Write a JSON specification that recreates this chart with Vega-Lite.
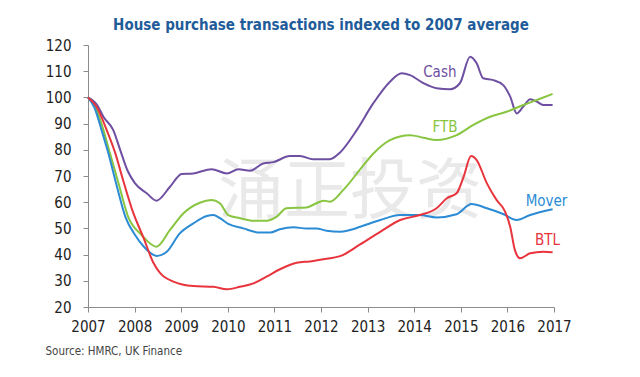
{
  "$schema": "https://vega.github.io/schema/vega-lite/v6.json",
  "autosize": "none",
  "width": 466,
  "height": 262,
  "padding": {"left": 88, "top": 45, "right": 86, "bottom": 70},
  "background": "white",
  "title": {
    "text": "House purchase transactions indexed to 2007 average",
    "frame": "group",
    "anchor": "middle",
    "offset": 5,
    "font": "DejaVu Sans Condensed, Liberation Sans, sans-serif",
    "fontSize": 15,
    "fontWeight": "bold",
    "color": "#1f5c99"
  },
  "config": {
    "view": {"stroke": null},
    "font": "DejaVu Sans Condensed, Liberation Sans, sans-serif"
  },
  "datasets": {
    "series": [
      {"series": "Cash", "year": 2007.0, "value": 100},
      {"series": "Cash", "year": 2007.2, "value": 97},
      {"series": "Cash", "year": 2007.33, "value": 92.6},
      {"series": "Cash", "year": 2007.54, "value": 87.6},
      {"series": "Cash", "year": 2007.69, "value": 80},
      {"series": "Cash", "year": 2007.85, "value": 72},
      {"series": "Cash", "year": 2008.01, "value": 67.2},
      {"series": "Cash", "year": 2008.26, "value": 63.4},
      {"series": "Cash", "year": 2008.47, "value": 60.6},
      {"series": "Cash", "year": 2008.76, "value": 65.9},
      {"series": "Cash", "year": 2009.01, "value": 70.8},
      {"series": "Cash", "year": 2009.26, "value": 71},
      {"series": "Cash", "year": 2009.65, "value": 72.6},
      {"series": "Cash", "year": 2009.98, "value": 71},
      {"series": "Cash", "year": 2010.23, "value": 72.6},
      {"series": "Cash", "year": 2010.48, "value": 72},
      {"series": "Cash", "year": 2010.76, "value": 74.8},
      {"series": "Cash", "year": 2010.98, "value": 75.3},
      {"series": "Cash", "year": 2011.33, "value": 77.6},
      {"series": "Cash", "year": 2011.55, "value": 77.6},
      {"series": "Cash", "year": 2011.83, "value": 76.4},
      {"series": "Cash", "year": 2012.19, "value": 76.4},
      {"series": "Cash", "year": 2012.41, "value": 79},
      {"series": "Cash", "year": 2012.77, "value": 87.6},
      {"series": "Cash", "year": 2013.12, "value": 97.7},
      {"series": "Cash", "year": 2013.48, "value": 106},
      {"series": "Cash", "year": 2013.73, "value": 109.2},
      {"series": "Cash", "year": 2013.91, "value": 108.5},
      {"series": "Cash", "year": 2014.2, "value": 105.4},
      {"series": "Cash", "year": 2014.48, "value": 103.5},
      {"series": "Cash", "year": 2014.77, "value": 103.1},
      {"series": "Cash", "year": 2014.98, "value": 105.4},
      {"series": "Cash", "year": 2015.2, "value": 115.5},
      {"series": "Cash", "year": 2015.34, "value": 113},
      {"series": "Cash", "year": 2015.48, "value": 107.3},
      {"series": "Cash", "year": 2015.7, "value": 106.6},
      {"series": "Cash", "year": 2015.91, "value": 104.7},
      {"series": "Cash", "year": 2016.06, "value": 100.3},
      {"series": "Cash", "year": 2016.2, "value": 93.9},
      {"series": "Cash", "year": 2016.34, "value": 96.5},
      {"series": "Cash", "year": 2016.49, "value": 99.3},
      {"series": "Cash", "year": 2016.63, "value": 98.4},
      {"series": "Cash", "year": 2016.77, "value": 97.1},
      {"series": "Cash", "year": 2016.97, "value": 97.1},

      {"series": "FTB", "year": 2007.0, "value": 100},
      {"series": "FTB", "year": 2007.15, "value": 96.5},
      {"series": "FTB", "year": 2007.33, "value": 87.6},
      {"series": "FTB", "year": 2007.45, "value": 80},
      {"series": "FTB", "year": 2007.65, "value": 67.5},
      {"series": "FTB", "year": 2007.86, "value": 54.5},
      {"series": "FTB", "year": 2008.15, "value": 47.5},
      {"series": "FTB", "year": 2008.47, "value": 43},
      {"series": "FTB", "year": 2008.76, "value": 49.4},
      {"series": "FTB", "year": 2009.05, "value": 55.8},
      {"series": "FTB", "year": 2009.4, "value": 59.8},
      {"series": "FTB", "year": 2009.65, "value": 60.8},
      {"series": "FTB", "year": 2009.83, "value": 59.6},
      {"series": "FTB", "year": 2010.01, "value": 55.1},
      {"series": "FTB", "year": 2010.26, "value": 53.9},
      {"series": "FTB", "year": 2010.55, "value": 52.9},
      {"series": "FTB", "year": 2010.83, "value": 52.9},
      {"series": "FTB", "year": 2011.05, "value": 54.5},
      {"series": "FTB", "year": 2011.26, "value": 57.7},
      {"series": "FTB", "year": 2011.69, "value": 58},
      {"series": "FTB", "year": 2011.9, "value": 59.6},
      {"series": "FTB", "year": 2012.05, "value": 60.6},
      {"series": "FTB", "year": 2012.19, "value": 60.2},
      {"series": "FTB", "year": 2012.48, "value": 64.7},
      {"series": "FTB", "year": 2012.84, "value": 72.5},
      {"series": "FTB", "year": 2013.12, "value": 78.5},
      {"series": "FTB", "year": 2013.48, "value": 83.7},
      {"series": "FTB", "year": 2013.91, "value": 85.6},
      {"series": "FTB", "year": 2014.2, "value": 84.6},
      {"series": "FTB", "year": 2014.48, "value": 83.7},
      {"series": "FTB", "year": 2014.91, "value": 85.6},
      {"series": "FTB", "year": 2015.27, "value": 89.5},
      {"series": "FTB", "year": 2015.63, "value": 92.6},
      {"series": "FTB", "year": 2015.98, "value": 94.5},
      {"series": "FTB", "year": 2016.34, "value": 97.1},
      {"series": "FTB", "year": 2016.63, "value": 99},
      {"series": "FTB", "year": 2016.97, "value": 101.3},

      {"series": "Mover", "year": 2007.0, "value": 100},
      {"series": "Mover", "year": 2007.14, "value": 96},
      {"series": "Mover", "year": 2007.29, "value": 87.6},
      {"series": "Mover", "year": 2007.44, "value": 78.5},
      {"series": "Mover", "year": 2007.62, "value": 66},
      {"series": "Mover", "year": 2007.8, "value": 54.5},
      {"series": "Mover", "year": 2008.01, "value": 47.5},
      {"series": "Mover", "year": 2008.2, "value": 43},
      {"series": "Mover", "year": 2008.47, "value": 39.5},
      {"series": "Mover", "year": 2008.69, "value": 41.1},
      {"series": "Mover", "year": 2008.97, "value": 48.1},
      {"series": "Mover", "year": 2009.26, "value": 51.9},
      {"series": "Mover", "year": 2009.55, "value": 54.7},
      {"series": "Mover", "year": 2009.69, "value": 55.1},
      {"series": "Mover", "year": 2009.83, "value": 53.9},
      {"series": "Mover", "year": 2010.01, "value": 51.7},
      {"series": "Mover", "year": 2010.33, "value": 50},
      {"series": "Mover", "year": 2010.69, "value": 48.4},
      {"series": "Mover", "year": 2010.91, "value": 48.4},
      {"series": "Mover", "year": 2011.12, "value": 49.7},
      {"series": "Mover", "year": 2011.41, "value": 50.4},
      {"series": "Mover", "year": 2011.69, "value": 50},
      {"series": "Mover", "year": 2011.9, "value": 50},
      {"series": "Mover", "year": 2012.12, "value": 49.1},
      {"series": "Mover", "year": 2012.41, "value": 48.7},
      {"series": "Mover", "year": 2012.62, "value": 49.4},
      {"series": "Mover", "year": 2012.84, "value": 50.6},
      {"series": "Mover", "year": 2013.27, "value": 53.2},
      {"series": "Mover", "year": 2013.7, "value": 55.1},
      {"series": "Mover", "year": 2014.12, "value": 55.1},
      {"series": "Mover", "year": 2014.48, "value": 54.2},
      {"series": "Mover", "year": 2014.91, "value": 55.4},
      {"series": "Mover", "year": 2015.23, "value": 59.3},
      {"series": "Mover", "year": 2015.56, "value": 57.7},
      {"series": "Mover", "year": 2015.91, "value": 55.5},
      {"series": "Mover", "year": 2016.2, "value": 53.2},
      {"series": "Mover", "year": 2016.49, "value": 55.1},
      {"series": "Mover", "year": 2016.97, "value": 57.3},

      {"series": "BTL", "year": 2007.0, "value": 100},
      {"series": "BTL", "year": 2007.18, "value": 96.5},
      {"series": "BTL", "year": 2007.4, "value": 87.6},
      {"series": "BTL", "year": 2007.58, "value": 79},
      {"series": "BTL", "year": 2007.76, "value": 68},
      {"series": "BTL", "year": 2007.97, "value": 56},
      {"series": "BTL", "year": 2008.19, "value": 46.5},
      {"series": "BTL", "year": 2008.4, "value": 37},
      {"series": "BTL", "year": 2008.55, "value": 32.9},
      {"series": "BTL", "year": 2008.83, "value": 29.7},
      {"series": "BTL", "year": 2009.26, "value": 28},
      {"series": "BTL", "year": 2009.69, "value": 27.7},
      {"series": "BTL", "year": 2009.98, "value": 26.8},
      {"series": "BTL", "year": 2010.26, "value": 27.7},
      {"series": "BTL", "year": 2010.55, "value": 29},
      {"series": "BTL", "year": 2010.83, "value": 31.6},
      {"series": "BTL", "year": 2011.12, "value": 34.4},
      {"series": "BTL", "year": 2011.48, "value": 36.9},
      {"series": "BTL", "year": 2011.76, "value": 37.4},
      {"series": "BTL", "year": 2012.12, "value": 38.4},
      {"series": "BTL", "year": 2012.41, "value": 39.4},
      {"series": "BTL", "year": 2012.84, "value": 43.9},
      {"series": "BTL", "year": 2013.27, "value": 48.7},
      {"series": "BTL", "year": 2013.7, "value": 53.2},
      {"series": "BTL", "year": 2014.12, "value": 55.1},
      {"series": "BTL", "year": 2014.48, "value": 57.7},
      {"series": "BTL", "year": 2014.7, "value": 61.5},
      {"series": "BTL", "year": 2014.91, "value": 63.4},
      {"series": "BTL", "year": 2015.06, "value": 69.7},
      {"series": "BTL", "year": 2015.22, "value": 77.6},
      {"series": "BTL", "year": 2015.34, "value": 76.1},
      {"series": "BTL", "year": 2015.56, "value": 67.2},
      {"series": "BTL", "year": 2015.77, "value": 60.8},
      {"series": "BTL", "year": 2015.95, "value": 56.4},
      {"series": "BTL", "year": 2016.06, "value": 50.6},
      {"series": "BTL", "year": 2016.16, "value": 41.8},
      {"series": "BTL", "year": 2016.27, "value": 38.6},
      {"series": "BTL", "year": 2016.49, "value": 40.5},
      {"series": "BTL", "year": 2016.77, "value": 41.1},
      {"series": "BTL", "year": 2016.97, "value": 40.9}
    ],
    "labels": [
      {"series": "Cash", "year": 2014.55, "value": 109.6},
      {"series": "FTB", "year": 2014.66, "value": 88.8},
      {"series": "Mover", "year": 2016.84, "value": 60.6},
      {"series": "BTL", "year": 2016.86, "value": 45.6}
    ],
    "watermark": [
      {"text": "涌正投资", "year": 2012.62, "value": 63.5}
    ]
  },
  "encoding": {
    "x": {
      "field": "year",
      "type": "quantitative",
      "scale": {"domain": [2007, 2017], "nice": false, "zero": false},
      "axis": {
        "values": [2007, 2008, 2009, 2010, 2011, 2012, 2013, 2014, 2015, 2016, 2017],
        "format": "d",
        "grid": false,
        "domainColor": "#8c8c8c",
        "tickColor": "#8c8c8c",
        "tickSize": 5,
        "labelFontSize": 15,
        "labelColor": "#222222",
        "labelPadding": 7,
        "labelFlush": false,
        "labelOverlap": false,
        "title": "Source: HMRC, UK Finance",
        "titleFontSize": 11.5,
        "titleFontWeight": "normal",
        "titleColor": "#444444",
        "titleAlign": "left",
        "titleBaseline": "alphabetic",
        "titleX": -43,
        "titleY": 47
      }
    },
    "y": {
      "field": "value",
      "type": "quantitative",
      "scale": {"domain": [20, 120], "nice": false, "zero": false},
      "axis": {
        "values": [20, 30, 40, 50, 60, 70, 80, 90, 100, 110, 120],
        "grid": false,
        "domainColor": "#8c8c8c",
        "tickColor": "#8c8c8c",
        "tickSize": 5,
        "labelFontSize": 15,
        "labelColor": "#222222",
        "labelPadding": 12,
        "labelFlush": false,
        "labelOverlap": false,
        "title": null
      }
    }
  },
  "layer": [
    {
      "data": {"name": "watermark"},
      "mark": {"type": "text", "font": "Noto Sans CJK SC", "fontSize": 66, "color": "#e9e9e9", "align": "center", "baseline": "middle", "letterSpacing": 8},
      "encoding": {
        "text": {"field": "text"}
      }
    },
    {
      "data": {"name": "series"},
      "mark": {"type": "line", "interpolate": "monotone", "strokeWidth": 2},
      "encoding": {
        "color": {
          "field": "series",
          "type": "nominal",
          "scale": {"domain": ["Cash", "FTB", "Mover", "BTL"], "range": ["#6e4fa2", "#88c540", "#2b8bd5", "#e8343d"]},
          "legend": null
        },
        "order": {"field": "year", "type": "quantitative"}
      }
    },
    {
      "data": {"name": "labels"},
      "mark": {"type": "text", "fontSize": 15, "align": "center", "baseline": "middle"},
      "encoding": {
        "text": {"field": "series"},
        "color": {"field": "series", "type": "nominal", "legend": null}
      }
    }
  ]
}
